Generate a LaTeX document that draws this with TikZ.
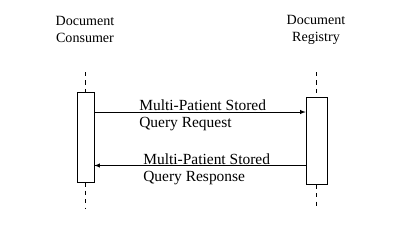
\documentclass[tikz,border=0pt]{standalone}
\usepackage{fontspec}
\setmainfont{Liberation Serif}
\usetikzlibrary{arrows}
\tikzstyle{actor} = [align=center, inner sep=0pt, font=\fontsize{10pt}{12pt}\selectfont]
\tikzstyle{activation} = [rectangle, draw=black, fill=white, inner sep=0pt]
\tikzstyle{lifeline} = [dash pattern=on 3pt off 3pt]
\tikzstyle{msg} = [align=left, inner sep=0pt, anchor=north west, font=\fontsize{11pt}{12pt}\selectfont]
\tikzstyle{arrow} = [->,>=latex]

\begin{document}
\begin{tikzpicture}[x=0.025cm, y=-0.025cm]
		\useasboundingbox (0,0) rectangle (400,244);
		\node (consumer) [actor] at (85,29.5) {Document\\Consumer};
		\node (registry) [actor] at (316,29.5) {Document\\Registry};
		\node (consbox) [activation, minimum width=17*0.025cm, minimum height=90*0.025cm] at (85.5,137) {};
		\node (regbox) [activation, minimum width=21*0.025cm, minimum height=87*0.025cm] at (316.5,141) {};
		\coordinate (constop) at (85.5,72);
		\coordinate (consend) at (85.5,208);
		\coordinate (regtop) at (316.5,72);
		\coordinate (regend) at (316.5,208);
		\coordinate (req) at (0,112);
		\coordinate (resp) at (0,165.5);
		\draw [lifeline] (constop) -- (consbox.north);
		\draw [lifeline] (consbox.south) -- (consend);
		\draw [lifeline] (regtop) -- (regbox.north);
		\draw [lifeline] (regbox.south) -- (regend);
		\draw [arrow] (consbox.east |- req) -- (regbox.west |- req);
		\draw [arrow] (regbox.west |- resp) -- (consbox.east |- resp);
		\node (reqtext) [msg] at (139,99.5) {Multi-Patient Stored\\Query Request};
		\node (resptext) [msg] at (143,153.5) {Multi-Patient Stored\\Query Response};
	\end{tikzpicture}
\end{document}
